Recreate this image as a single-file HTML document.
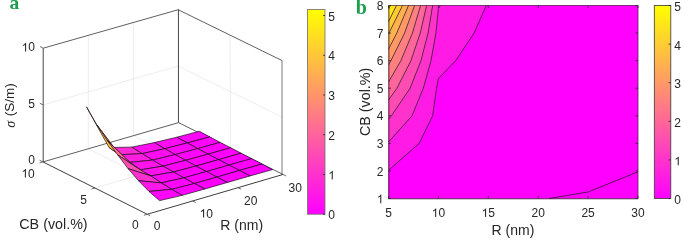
<!DOCTYPE html><html><head><meta charset="utf-8"><style>html,body{margin:0;padding:0;background:#fff;width:685px;height:242px;overflow:hidden}svg{display:block;will-change:transform}text{font-family:"Liberation Sans",sans-serif;fill:#262626}</style></head><body>
<svg width="685" height="242" viewBox="0 0 685 242">
<line x1="192.69" y1="200.95" x2="88.32" y2="148.77" stroke="#e9e9e9" stroke-width="0.8"/>
<line x1="237.96" y1="187.68" x2="133.51" y2="135.68" stroke="#e9e9e9" stroke-width="0.8"/>
<line x1="94.95" y1="188.01" x2="230.63" y2="148.47" stroke="#e9e9e9" stroke-width="0.8"/>
<line x1="88.32" y1="148.77" x2="88.42" y2="35.3" stroke="#e9e9e9" stroke-width="0.8"/>
<line x1="133.51" y1="135.68" x2="133.37" y2="22.49" stroke="#e9e9e9" stroke-width="0.8"/>
<line x1="43.13" y1="104.89" x2="178.34" y2="66.04" stroke="#e9e9e9" stroke-width="0.8"/>
<line x1="230.63" y1="148.47" x2="229.99" y2="35.09" stroke="#e9e9e9" stroke-width="0.8"/>
<line x1="282.59" y1="117.38" x2="178.34" y2="66.04" stroke="#e9e9e9" stroke-width="0.8"/>
<line x1="43.2" y1="48.2" x2="43.2" y2="161.9" stroke="#333333" stroke-width="0.9"/>
<line x1="43.3" y1="48.16" x2="178.16" y2="9.73" stroke="#4d4d4d" stroke-width="0.9"/>
<line x1="178.16" y1="9.73" x2="282.13" y2="60.6" stroke="#4d4d4d" stroke-width="0.9"/>
<line x1="178.45" y1="9.6" x2="178.45" y2="122.6" stroke="#3d3d3d" stroke-width="0.95"/>
<line x1="282" y1="60.6" x2="282" y2="174.5" stroke="#6a6a6a" stroke-width="0.9"/>
<line x1="42.96" y1="161.92" x2="178.53" y2="122.64" stroke="#4d4d4d" stroke-width="0.9"/>
<line x1="178.53" y1="122.64" x2="283.05" y2="174.46" stroke="#4d4d4d" stroke-width="0.9"/>
<polygon points="187.25,142.95 209.75,136.87 199.32,131.25 176.83,137.21" fill="#ff07f8" stroke="#1a0a1a" stroke-width="0.7" stroke-linejoin="round"/>
<polygon points="197.68,148.59 220.18,142.38 209.75,136.87 187.25,142.95" fill="#ff05fa" stroke="#1a0a1a" stroke-width="0.7" stroke-linejoin="round"/>
<polygon points="164.71,148.7 187.25,142.95 176.83,137.21 154.29,142.61" fill="#ff0bf4" stroke="#1a0a1a" stroke-width="0.7" stroke-linejoin="round"/>
<polygon points="208.12,154.11 230.63,147.78 220.18,142.38 197.68,148.59" fill="#ff04fb" stroke="#1a0a1a" stroke-width="0.7" stroke-linejoin="round"/>
<polygon points="175.13,154.58 197.68,148.59 187.25,142.95 164.71,148.7" fill="#ff08f7" stroke="#1a0a1a" stroke-width="0.7" stroke-linejoin="round"/>
<polygon points="142.12,153.62 164.71,148.7 154.29,142.61 131.71,147.13" fill="#ff12ed" stroke="#1a0a1a" stroke-width="0.7" stroke-linejoin="round"/>
<polygon points="218.58,159.65 241.09,153.2 230.63,147.78 208.12,154.11" fill="#ff02fd" stroke="#1a0a1a" stroke-width="0.7" stroke-linejoin="round"/>
<polygon points="185.57,160.34 208.12,154.11 197.68,148.59 175.13,154.58" fill="#ff05fa" stroke="#1a0a1a" stroke-width="0.7" stroke-linejoin="round"/>
<polygon points="152.54,160.08 175.13,154.58 164.71,148.7 142.12,153.62" fill="#ff0df2" stroke="#1a0a1a" stroke-width="0.7" stroke-linejoin="round"/>
<polygon points="229.04,165.08 251.56,158.62 241.09,153.2 218.58,159.65" fill="#ff01fe" stroke="#1a0a1a" stroke-width="0.7" stroke-linejoin="round"/>
<polygon points="119.49,154.76 142.12,153.62 131.71,147.13 109.09,147.51" fill="#ff2ad5" stroke="#1a0a1a" stroke-width="0.7" stroke-linejoin="round"/>
<polygon points="196.02,166 218.58,159.65 208.12,154.11 185.57,160.34" fill="#ff03fc" stroke="#1a0a1a" stroke-width="0.7" stroke-linejoin="round"/>
<polygon points="162.98,166.13 185.57,160.34 175.13,154.58 152.54,160.08" fill="#ff09f6" stroke="#1a0a1a" stroke-width="0.7" stroke-linejoin="round"/>
<polygon points="239.53,170.4 262.04,164.03 251.56,158.62 229.04,165.08" fill="#ff01fe" stroke="#1a0a1a" stroke-width="0.7" stroke-linejoin="round"/>
<polygon points="129.91,162.36 152.54,160.08 142.12,153.62 119.49,154.76" fill="#ff1fe0" stroke="#1a0a1a" stroke-width="0.7" stroke-linejoin="round"/>
<polygon points="206.49,171.55 229.04,165.08 218.58,159.65 196.02,166" fill="#ff02fd" stroke="#1a0a1a" stroke-width="0.7" stroke-linejoin="round"/>
<polygon points="173.43,172.02 196.02,166 185.57,160.34 162.98,166.13" fill="#ff06f9" stroke="#1a0a1a" stroke-width="0.7" stroke-linejoin="round"/>
<polygon points="250.02,175.91 272.54,169.59 262.04,164.03 239.53,170.4" fill="#ff00ff" stroke="#1a0a1a" stroke-width="0.7" stroke-linejoin="round"/>
<polygon points="140.34,169.86 162.98,166.13 152.54,160.08 129.91,162.36" fill="#ff15ea" stroke="#1a0a1a" stroke-width="0.7" stroke-linejoin="round"/>
<polygon points="216.97,177.09 239.53,170.4 229.04,165.08 206.49,171.55" fill="#ff01fe" stroke="#1a0a1a" stroke-width="0.7" stroke-linejoin="round"/>
<polygon points="183.89,177.81 206.49,171.55 196.02,166 173.43,172.02" fill="#ff03fc" stroke="#1a0a1a" stroke-width="0.7" stroke-linejoin="round"/>
<polygon points="150.78,175.88 173.43,172.02 162.98,166.13 140.34,169.86" fill="#ff12ed" stroke="#1a0a1a" stroke-width="0.7" stroke-linejoin="round"/>
<polygon points="96.85,124.91 119.49,154.76 109.09,147.51 86.48,106.87" fill="#ffc738" stroke="#1a0a1a" stroke-width="0.7" stroke-linejoin="round"/>
<polygon points="227.46,182.43 250.02,175.91 239.53,170.4 216.97,177.09" fill="#ff00ff" stroke="#1a0a1a" stroke-width="0.7" stroke-linejoin="round"/>
<polygon points="194.36,183.5 216.97,177.09 206.49,171.55 183.89,177.81" fill="#ff01fe" stroke="#1a0a1a" stroke-width="0.7" stroke-linejoin="round"/>
<polygon points="107.24,140.47 129.91,162.36 119.49,154.76 96.85,124.91" fill="#ff9a65" stroke="#1a0a1a" stroke-width="0.7" stroke-linejoin="round"/>
<polygon points="161.24,182.88 183.89,177.81 173.43,172.02 150.78,175.88" fill="#ff0af5" stroke="#1a0a1a" stroke-width="0.7" stroke-linejoin="round"/>
<polygon points="117.66,154.82 140.34,169.86 129.91,162.36 107.24,140.47" fill="#ff738c" stroke="#1a0a1a" stroke-width="0.7" stroke-linejoin="round"/>
<polygon points="204.85,188.96 227.46,182.43 216.97,177.09 194.36,183.5" fill="#ff00ff" stroke="#1a0a1a" stroke-width="0.7" stroke-linejoin="round"/>
<polygon points="171.71,189.32 194.36,183.5 183.89,177.81 161.24,182.88" fill="#ff05fa" stroke="#1a0a1a" stroke-width="0.7" stroke-linejoin="round"/>
<polygon points="128.09,168.62 150.78,175.88 140.34,169.86 117.66,154.82" fill="#ff4eb1" stroke="#1a0a1a" stroke-width="0.7" stroke-linejoin="round"/>
<polygon points="138.55,180.72 161.24,182.88 150.78,175.88 128.09,168.62" fill="#ff30cf" stroke="#1a0a1a" stroke-width="0.7" stroke-linejoin="round"/>
<polygon points="182.2,195.36 204.85,188.96 194.36,183.5 171.71,189.32" fill="#ff01fe" stroke="#1a0a1a" stroke-width="0.7" stroke-linejoin="round"/>
<polygon points="149.02,191.47 171.71,189.32 161.24,182.88 138.55,180.72" fill="#ff18e7" stroke="#1a0a1a" stroke-width="0.7" stroke-linejoin="round"/>
<polygon points="159.5,200.62 182.2,195.36 171.71,189.32 149.02,191.47" fill="#ff07f8" stroke="#1a0a1a" stroke-width="0.7" stroke-linejoin="round"/>
<line x1="147.25" y1="214.27" x2="42.96" y2="161.92" stroke="#333333" stroke-width="0.95"/>
<line x1="147.25" y1="214.27" x2="283.05" y2="174.46" stroke="#333333" stroke-width="0.95"/>
<line x1="42.96" y1="161.92" x2="39.64" y2="160.25" stroke="#4d4d4d" stroke-width="0.8"/>
<line x1="43.13" y1="104.89" x2="39.82" y2="103.24" stroke="#4d4d4d" stroke-width="0.8"/>
<line x1="43.3" y1="48.16" x2="40" y2="46.53" stroke="#4d4d4d" stroke-width="0.8"/>
<line x1="147.25" y1="214.27" x2="143.84" y2="215.27" stroke="#4d4d4d" stroke-width="0.8"/>
<line x1="94.95" y1="188.01" x2="91.54" y2="189.01" stroke="#4d4d4d" stroke-width="0.8"/>
<line x1="42.96" y1="161.92" x2="39.55" y2="162.9" stroke="#4d4d4d" stroke-width="0.8"/>
<line x1="147.25" y1="214.27" x2="150.4" y2="215.85" stroke="#4d4d4d" stroke-width="0.8"/>
<line x1="192.69" y1="200.95" x2="195.84" y2="202.53" stroke="#4d4d4d" stroke-width="0.8"/>
<line x1="237.96" y1="187.68" x2="241.11" y2="189.25" stroke="#4d4d4d" stroke-width="0.8"/>
<line x1="283.05" y1="174.46" x2="286.2" y2="176.02" stroke="#4d4d4d" stroke-width="0.8"/>
<text x="35" y="164" font-size="12" text-anchor="end" >0</text>
<text x="35" y="107.8" font-size="12" text-anchor="end" >5</text>
<text x="21.65" y="51.4" font-size="12" text-anchor="start" > 0</text>
<path d="M763 0H583V1147Q518 1085 412.5 1023T223 930V1104Q381 1178 499.5 1283T667 1466H763V0Z" fill="#262626" transform="translate(21.65,51.4) scale(0.005859,-0.005859)"/>
<text x="21.45" y="177.6" font-size="12" text-anchor="start" > 0</text>
<path d="M763 0H583V1147Q518 1085 412.5 1023T223 930V1104Q381 1178 499.5 1283T667 1466H763V0Z" fill="#262626" transform="translate(21.45,177.6) scale(0.005859,-0.005859)"/>
<text x="83.5" y="204" font-size="12" text-anchor="middle" >5</text>
<text x="135.3" y="229" font-size="12" text-anchor="middle" >0</text>
<text x="157" y="230" font-size="12" text-anchor="middle" >0</text>
<text x="199.63" y="217.6" font-size="12" text-anchor="start" > 0</text>
<path d="M763 0H583V1147Q518 1085 412.5 1023T223 930V1104Q381 1178 499.5 1283T667 1466H763V0Z" fill="#262626" transform="translate(199.63,217.6) scale(0.005859,-0.005859)"/>
<text x="250.7" y="205" font-size="12" text-anchor="middle" >20</text>
<text x="288.5" y="191.7" font-size="12" text-anchor="start" >30</text>
<text x="19.3" y="228.7" font-size="14.3" text-anchor="start" >CB (vol.%)</text>
<text x="220.3" y="229.9" font-size="14" text-anchor="start" >R (nm)</text>
<text transform="translate(15.0,127.8) rotate(-90)" font-size="14" text-anchor="start" style="font-family:'Liberation Serif',serif;font-style:italic">σ</text>
<text transform="translate(13.8,116.3) rotate(-90)" font-size="13.5" text-anchor="start">(S/m)</text>
<defs><linearGradient id="spr" x1="0" y1="1" x2="0" y2="0"><stop offset="0" stop-color="#ff00ff"/><stop offset="1" stop-color="#ffff00"/></linearGradient>
<linearGradient id="spra" x1="0" y1="1" x2="0" y2="0"><stop offset="0" stop-color="#ff00ff"/><stop offset="1" stop-color="#ffff00"/></linearGradient></defs>
<rect x="307.5" y="9.5" width="17.5" height="204.7" fill="url(#spra)" stroke="#6e6e6e" stroke-width="0.8"/>
<line x1="323" y1="214.2" x2="325" y2="214.2" stroke="#262626" stroke-width="0.8"/>
<text x="328.3" y="219.2" font-size="12" text-anchor="start" >0</text>
<line x1="323" y1="174.46" x2="325" y2="174.46" stroke="#262626" stroke-width="0.8"/>
<text x="328.3" y="179.46" font-size="12" text-anchor="start" > </text>
<path d="M763 0H583V1147Q518 1085 412.5 1023T223 930V1104Q381 1178 499.5 1283T667 1466H763V0Z" fill="#262626" transform="translate(328.3,179.46) scale(0.005859,-0.005859)"/>
<line x1="323" y1="134.72" x2="325" y2="134.72" stroke="#262626" stroke-width="0.8"/>
<text x="328.3" y="139.72" font-size="12" text-anchor="start" >2</text>
<line x1="323" y1="94.98" x2="325" y2="94.98" stroke="#262626" stroke-width="0.8"/>
<text x="328.3" y="99.98" font-size="12" text-anchor="start" >3</text>
<line x1="323" y1="55.24" x2="325" y2="55.24" stroke="#262626" stroke-width="0.8"/>
<text x="328.3" y="60.24" font-size="12" text-anchor="start" >4</text>
<line x1="323" y1="15.5" x2="325" y2="15.5" stroke="#262626" stroke-width="0.8"/>
<text x="328.3" y="20.5" font-size="12" text-anchor="start" >5</text>
<text x="9.6" y="9.3" font-size="19.5" font-weight="bold" style="font-family:'Liberation Serif',serif;fill:#1e9e50">a</text>
<g>
<rect x="388.5" y="5.5" width="249.5" height="193.0" fill="#ff00ff"/>
<path d="M588.1 198.5L638 198.5L638 171.82L588.1 191.98L548.94 198.5Z" fill="#ff00ff" fill-rule="evenodd" stroke="#ff00ff" stroke-width="0.3"/>
<path d="M438.4 198.5L488.3 198.5L538.2 198.5L548.94 198.5L588.1 191.98L638 171.82L638 170.93L638 143.36L638 115.79L638 88.21L638 60.64L638 33.07L638 5.5L588.1 5.5L538.2 5.5L488.3 5.5L486.27 5.5L474.04 33.07L455.65 60.64L438.4 78.56L436.55 88.21L432.63 115.79L419.16 143.36L388.5 170.35L388.5 170.93L388.5 198.5Z" fill="#ff00ff" fill-rule="evenodd" stroke="#ff00ff" stroke-width="0.3"/>
<path d="M419.16 143.36L432.63 115.79L436.55 88.21L438.4 78.56L455.65 60.64L474.04 33.07L486.27 5.5L440.24 5.5L438.4 8.56L435.9 33.07L430.99 60.64L423.35 88.21L412.01 115.79L388.5 141.98L388.5 143.36L388.5 170.35Z" fill="#ff1ae6" fill-rule="evenodd" stroke="#ff1ae6" stroke-width="0.3"/>
<path d="M412.01 115.79L423.35 88.21L430.99 60.64L435.9 33.07L438.4 8.56L440.24 5.5L438.4 5.5L432.61 5.5L428.08 33.07L420.97 60.64L410.15 88.21L391.39 115.79L388.5 119L388.5 141.98Z" fill="#ff33cc" fill-rule="evenodd" stroke="#ff33cc" stroke-width="0.3"/>
<path d="M391.39 115.79L410.15 88.21L420.97 60.64L428.08 33.07L432.61 5.5L426.59 5.5L420.25 33.07L410.94 60.64L396.95 88.21L388.5 99.98L388.5 115.79L388.5 119Z" fill="#ff4cb2" fill-rule="evenodd" stroke="#ff4cb2" stroke-width="0.3"/>
<path d="M396.95 88.21L410.94 60.64L420.25 33.07L426.59 5.5L420.56 5.5L412.43 33.07L400.92 60.64L388.5 82.01L388.5 88.21L388.5 99.98Z" fill="#ff6699" fill-rule="evenodd" stroke="#ff6699" stroke-width="0.3"/>
<path d="M400.92 60.64L412.43 33.07L420.56 5.5L414.53 5.5L404.61 33.07L390.9 60.64L388.5 64.78L388.5 82.01Z" fill="#ff8080" fill-rule="evenodd" stroke="#ff8080" stroke-width="0.3"/>
<path d="M390.9 60.64L404.61 33.07L414.53 5.5L408.51 5.5L396.79 33.07L388.5 49.13L388.5 60.64L388.5 64.78Z" fill="#ff9966" fill-rule="evenodd" stroke="#ff9966" stroke-width="0.3"/>
<path d="M396.79 33.07L408.51 5.5L402.48 5.5L388.97 33.07L388.5 33.98L388.5 49.13Z" fill="#ffb24d" fill-rule="evenodd" stroke="#ffb24d" stroke-width="0.3"/>
<path d="M388.97 33.07L402.48 5.5L396.46 5.5L388.5 21.6L388.5 33.07L388.5 33.98Z" fill="#ffcc33" fill-rule="evenodd" stroke="#ffcc33" stroke-width="0.3"/>
<path d="M396.46 5.5L390.43 5.5L388.5 9.4L388.5 21.6Z" fill="#ffe619" fill-rule="evenodd" stroke="#ffe619" stroke-width="0.3"/>
<path d="M390.43 5.5L388.5 5.5L388.5 9.4Z" fill="#ffff00" fill-rule="evenodd" stroke="#ffff00" stroke-width="0.3"/>
</g>
<path d="M548.94 198.5L588.1 191.98L638 171.82" fill="none" stroke="#1a1a1a" stroke-width="0.7"/>
<path d="M388.5 170.35L419.16 143.36L432.63 115.79L436.55 88.21L438.4 78.56L455.65 60.64L474.04 33.07L486.27 5.5" fill="none" stroke="#1a1a1a" stroke-width="0.7"/>
<path d="M388.5 141.98L412.01 115.79L423.35 88.21L430.99 60.64L435.9 33.07L438.4 8.56L440.24 5.5" fill="none" stroke="#1a1a1a" stroke-width="0.7"/>
<path d="M388.5 119L391.39 115.79L410.15 88.21L420.97 60.64L428.08 33.07L432.61 5.5" fill="none" stroke="#1a1a1a" stroke-width="0.7"/>
<path d="M388.5 99.98L396.95 88.21L410.94 60.64L420.25 33.07L426.59 5.5" fill="none" stroke="#1a1a1a" stroke-width="0.7"/>
<path d="M388.5 82.01L400.92 60.64L412.43 33.07L420.56 5.5" fill="none" stroke="#1a1a1a" stroke-width="0.7"/>
<path d="M388.5 64.78L390.9 60.64L404.61 33.07L414.53 5.5" fill="none" stroke="#1a1a1a" stroke-width="0.7"/>
<path d="M388.5 49.13L396.79 33.07L408.51 5.5" fill="none" stroke="#1a1a1a" stroke-width="0.7"/>
<path d="M388.5 33.98L388.97 33.07L402.48 5.5" fill="none" stroke="#1a1a1a" stroke-width="0.7"/>
<path d="M388.5 21.6L396.46 5.5" fill="none" stroke="#1a1a1a" stroke-width="0.7"/>
<path d="M388.5 9.4L390.43 5.5" fill="none" stroke="#1a1a1a" stroke-width="0.7"/>
<line x1="388.5" y1="5.5" x2="638.0" y2="5.5" stroke="#262626" stroke-width="0.6"/>
<line x1="638.0" y1="5.5" x2="638.0" y2="198.5" stroke="#262626" stroke-width="0.6"/>
<line x1="388.9" y1="5.5" x2="388.9" y2="198.8" stroke="#262626" stroke-width="1" stroke-opacity="0.75"/>
<line x1="388.5" y1="198.8" x2="638.0" y2="198.8" stroke="#262626" stroke-width="1" stroke-opacity="0.75"/>
<line x1="388.5" y1="198.5" x2="388.5" y2="196.0" stroke="#262626" stroke-width="0.8"/>
<line x1="388.5" y1="5.5" x2="388.5" y2="8.0" stroke="#262626" stroke-width="0.8"/>
<text x="388.5" y="217" font-size="12" text-anchor="middle" >5</text>
<line x1="438.4" y1="198.5" x2="438.4" y2="196.0" stroke="#262626" stroke-width="0.8"/>
<line x1="438.4" y1="5.5" x2="438.4" y2="8.0" stroke="#262626" stroke-width="0.8"/>
<text x="431.73" y="217" font-size="12" text-anchor="start" > 0</text>
<path d="M763 0H583V1147Q518 1085 412.5 1023T223 930V1104Q381 1178 499.5 1283T667 1466H763V0Z" fill="#262626" transform="translate(431.73,217) scale(0.005859,-0.005859)"/>
<line x1="488.3" y1="198.5" x2="488.3" y2="196.0" stroke="#262626" stroke-width="0.8"/>
<line x1="488.3" y1="5.5" x2="488.3" y2="8.0" stroke="#262626" stroke-width="0.8"/>
<text x="481.63" y="217" font-size="12" text-anchor="start" > 5</text>
<path d="M763 0H583V1147Q518 1085 412.5 1023T223 930V1104Q381 1178 499.5 1283T667 1466H763V0Z" fill="#262626" transform="translate(481.63,217) scale(0.005859,-0.005859)"/>
<line x1="538.2" y1="198.5" x2="538.2" y2="196.0" stroke="#262626" stroke-width="0.8"/>
<line x1="538.2" y1="5.5" x2="538.2" y2="8.0" stroke="#262626" stroke-width="0.8"/>
<text x="538.2" y="217" font-size="12" text-anchor="middle" >20</text>
<line x1="588.1" y1="198.5" x2="588.1" y2="196.0" stroke="#262626" stroke-width="0.8"/>
<line x1="588.1" y1="5.5" x2="588.1" y2="8.0" stroke="#262626" stroke-width="0.8"/>
<text x="588.1" y="217" font-size="12" text-anchor="middle" >25</text>
<line x1="638" y1="198.5" x2="638" y2="196.0" stroke="#262626" stroke-width="0.8"/>
<line x1="638" y1="5.5" x2="638" y2="8.0" stroke="#262626" stroke-width="0.8"/>
<text x="638" y="217" font-size="12" text-anchor="middle" >30</text>
<line x1="388.5" y1="198.5" x2="391.0" y2="198.5" stroke="#262626" stroke-width="0.8"/>
<line x1="638.0" y1="198.5" x2="635.5" y2="198.5" stroke="#262626" stroke-width="0.8"/>
<text x="376.83" y="203.2" font-size="12" text-anchor="start" > </text>
<path d="M763 0H583V1147Q518 1085 412.5 1023T223 930V1104Q381 1178 499.5 1283T667 1466H763V0Z" fill="#262626" transform="translate(376.83,203.2) scale(0.005859,-0.005859)"/>
<line x1="388.5" y1="170.93" x2="391.0" y2="170.93" stroke="#262626" stroke-width="0.8"/>
<line x1="638.0" y1="170.93" x2="635.5" y2="170.93" stroke="#262626" stroke-width="0.8"/>
<text x="383.5" y="175.63" font-size="12" text-anchor="end" >2</text>
<line x1="388.5" y1="143.36" x2="391.0" y2="143.36" stroke="#262626" stroke-width="0.8"/>
<line x1="638.0" y1="143.36" x2="635.5" y2="143.36" stroke="#262626" stroke-width="0.8"/>
<text x="383.5" y="148.06" font-size="12" text-anchor="end" >3</text>
<line x1="388.5" y1="115.79" x2="391.0" y2="115.79" stroke="#262626" stroke-width="0.8"/>
<line x1="638.0" y1="115.79" x2="635.5" y2="115.79" stroke="#262626" stroke-width="0.8"/>
<text x="383.5" y="120.49" font-size="12" text-anchor="end" >4</text>
<line x1="388.5" y1="88.21" x2="391.0" y2="88.21" stroke="#262626" stroke-width="0.8"/>
<line x1="638.0" y1="88.21" x2="635.5" y2="88.21" stroke="#262626" stroke-width="0.8"/>
<text x="383.5" y="92.91" font-size="12" text-anchor="end" >5</text>
<line x1="388.5" y1="60.64" x2="391.0" y2="60.64" stroke="#262626" stroke-width="0.8"/>
<line x1="638.0" y1="60.64" x2="635.5" y2="60.64" stroke="#262626" stroke-width="0.8"/>
<text x="383.5" y="65.34" font-size="12" text-anchor="end" >6</text>
<line x1="388.5" y1="33.07" x2="391.0" y2="33.07" stroke="#262626" stroke-width="0.8"/>
<line x1="638.0" y1="33.07" x2="635.5" y2="33.07" stroke="#262626" stroke-width="0.8"/>
<text x="383.5" y="37.77" font-size="12" text-anchor="end" >7</text>
<line x1="388.5" y1="5.5" x2="391.0" y2="5.5" stroke="#262626" stroke-width="0.8"/>
<line x1="638.0" y1="5.5" x2="635.5" y2="5.5" stroke="#262626" stroke-width="0.8"/>
<text x="383.5" y="10.2" font-size="12" text-anchor="end" >8</text>
<text x="491.6" y="234.8" font-size="14" text-anchor="start" >R (nm)</text>
<text transform="translate(370.2,136) rotate(-90)" font-size="14.3" text-anchor="start">CB (vol.%)</text>
<rect x="654.3" y="5.5" width="16.5" height="193" fill="url(#spr)" stroke="#3a3a3a" stroke-width="0.8"/>
<line x1="668.5" y1="198.5" x2="670.8" y2="198.5" stroke="#262626" stroke-width="0.8"/>
<text x="674.3" y="203.9" font-size="12" text-anchor="start" >0</text>
<line x1="668.5" y1="159.9" x2="670.8" y2="159.9" stroke="#262626" stroke-width="0.8"/>
<text x="674.3" y="165.3" font-size="12" text-anchor="start" > </text>
<path d="M763 0H583V1147Q518 1085 412.5 1023T223 930V1104Q381 1178 499.5 1283T667 1466H763V0Z" fill="#262626" transform="translate(674.3,165.3) scale(0.005859,-0.005859)"/>
<line x1="668.5" y1="121.3" x2="670.8" y2="121.3" stroke="#262626" stroke-width="0.8"/>
<text x="674.3" y="126.7" font-size="12" text-anchor="start" >2</text>
<line x1="668.5" y1="82.7" x2="670.8" y2="82.7" stroke="#262626" stroke-width="0.8"/>
<text x="674.3" y="88.1" font-size="12" text-anchor="start" >3</text>
<line x1="668.5" y1="44.1" x2="670.8" y2="44.1" stroke="#262626" stroke-width="0.8"/>
<text x="674.3" y="49.5" font-size="12" text-anchor="start" >4</text>
<line x1="668.5" y1="5.5" x2="670.8" y2="5.5" stroke="#262626" stroke-width="0.8"/>
<text x="674.3" y="10.9" font-size="12" text-anchor="start" >5</text>
<text x="355.7" y="13.7" font-size="20" font-weight="bold" style="font-family:'Liberation Serif',serif;fill:#1e9e50">b</text>
</svg></body></html>
